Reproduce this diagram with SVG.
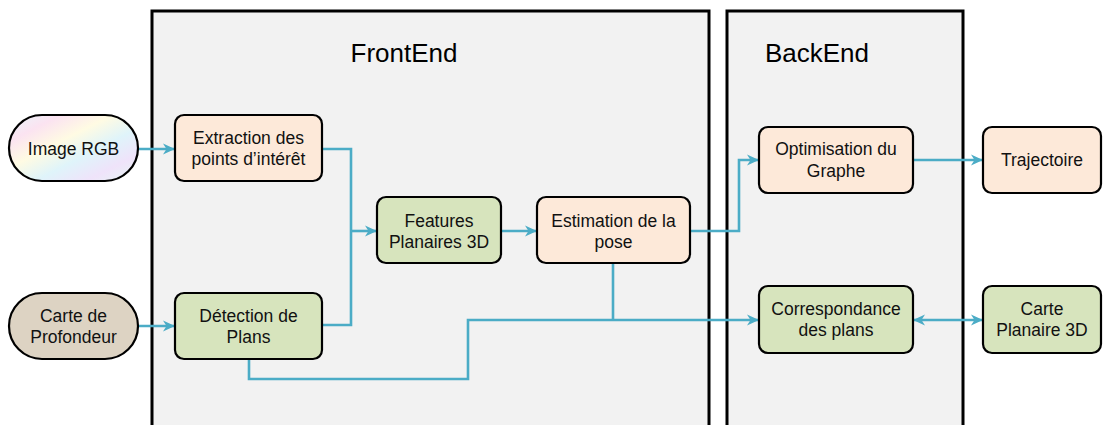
<svg xmlns="http://www.w3.org/2000/svg" width="1103" height="425" viewBox="0 0 1103 425">
  <style>
    .panel { fill: #f2f2f2; stroke: #000; stroke-width: 3; }
    .title { font-family: "Liberation Sans", Arial, sans-serif; font-size: 26px; fill: #000; text-anchor: middle; }
    .box { stroke: #000; stroke-width: 2.2; }
    .peach { fill: #fde9d9; }
    .green { fill: #d7e4bd; }
    .lbl { font-family: "Liberation Sans", Arial, sans-serif; font-size: 17.5px; fill: #111; text-anchor: middle; }
    .conn { fill: none; stroke: #4bacc6; stroke-width: 2.6; stroke-linejoin: miter; }
  </style>
  <defs>
    <linearGradient id="rgb" x1="0" y1="0" x2="1" y2="1">
      <stop offset="0" stop-color="#e9f7fb"/>
      <stop offset="0.2" stop-color="#fbe3f1"/>
      <stop offset="0.4" stop-color="#fffbe3"/>
      <stop offset="0.6" stop-color="#dff4fa"/>
      <stop offset="0.8" stop-color="#efe3fa"/>
      <stop offset="1" stop-color="#e6f7f3"/>
    </linearGradient>
    <marker id="arr" markerUnits="userSpaceOnUse" markerWidth="13" markerHeight="13" viewBox="0 0 13 13" refX="12" refY="6.5" orient="auto-start-reverse">
      <path d="M0,1 L12,6.5 L0,12 L3.5,6.5 z" fill="#4bacc6"/>
    </marker>
  </defs>

  <g id="frontend-panel">
    <rect class="panel" x="152" y="11" width="557" height="440"/>
    <text class="title" x="404" y="62">FrontEnd</text>
  </g>
  <g id="backend-panel">
    <rect class="panel" x="727" y="11" width="236" height="440"/>
    <text class="title" x="817" y="62">BackEnd</text>
  </g>

  <g id="connectors">
    <path class="conn" d="M138,149 H175" marker-end="url(#arr)"/>
    <path class="conn" d="M138,326 H175" marker-end="url(#arr)"/>
    <path class="conn" d="M322,149 H351 V231"/>
    <path class="conn" d="M322,325 H351 V231"/>
    <path class="conn" d="M351,231 H377" marker-end="url(#arr)"/>
    <path class="conn" d="M501,231 H537" marker-end="url(#arr)"/>
    <path class="conn" d="M690,231 H739 V160 H759" marker-end="url(#arr)"/>
    <path class="conn" d="M913,160 H983" marker-end="url(#arr)"/>
    <path class="conn" d="M613,263 V320"/>
    <path class="conn" d="M249,359 V379 H468 V320 H759" marker-end="url(#arr)"/>
    <path class="conn" d="M913,320 H983" marker-start="url(#arr)" marker-end="url(#arr)"/>
  </g>

  <g id="image-rgb">
    <rect class="box" x="9" y="115" width="129" height="66" rx="33" fill="url(#rgb)"/>
    <text class="lbl" x="73.5" y="155">Image RGB</text>
  </g>
  <g id="carte-profondeur">
    <rect class="box" x="9" y="293" width="129" height="66" rx="33" fill="#ddd3c3"/>
    <text class="lbl" x="73.5" y="322">Carte de</text>
    <text class="lbl" x="73.5" y="343">Profondeur</text>
  </g>
  <g id="extraction">
    <rect class="box peach" x="175" y="115" width="147" height="66" rx="9"/>
    <text class="lbl" x="248.5" y="144">Extraction des</text>
    <text class="lbl" x="248.5" y="165">points d’intérêt</text>
  </g>
  <g id="detection">
    <rect class="box green" x="175" y="293" width="147" height="66" rx="9"/>
    <text class="lbl" x="248.5" y="322">Détection de</text>
    <text class="lbl" x="248.5" y="343">Plans</text>
  </g>
  <g id="features">
    <rect class="box green" x="377" y="197" width="124" height="66" rx="9"/>
    <text class="lbl" x="439" y="227">Features</text>
    <text class="lbl" x="439" y="248">Planaires 3D</text>
  </g>
  <g id="estimation">
    <rect class="box peach" x="537" y="197" width="153" height="66" rx="9"/>
    <text class="lbl" x="613.5" y="227">Estimation de la</text>
    <text class="lbl" x="613.5" y="248">pose</text>
  </g>
  <g id="optimisation">
    <rect class="box peach" x="759" y="127" width="154" height="66" rx="9"/>
    <text class="lbl" x="836" y="155">Optimisation du</text>
    <text class="lbl" x="836" y="177">Graphe</text>
  </g>
  <g id="trajectoire">
    <rect class="box peach" x="983" y="127" width="118" height="66" rx="9"/>
    <text class="lbl" x="1042" y="166">Trajectoire</text>
  </g>
  <g id="correspondance">
    <rect class="box green" x="759" y="286" width="154" height="67" rx="9"/>
    <text class="lbl" x="836" y="315">Correspondance</text>
    <text class="lbl" x="836" y="336">des plans</text>
  </g>
  <g id="carte-planaire">
    <rect class="box green" x="983" y="286" width="118" height="67" rx="9"/>
    <text class="lbl" x="1042" y="315">Carte</text>
    <text class="lbl" x="1042" y="336">Planaire 3D</text>
  </g>
</svg>
